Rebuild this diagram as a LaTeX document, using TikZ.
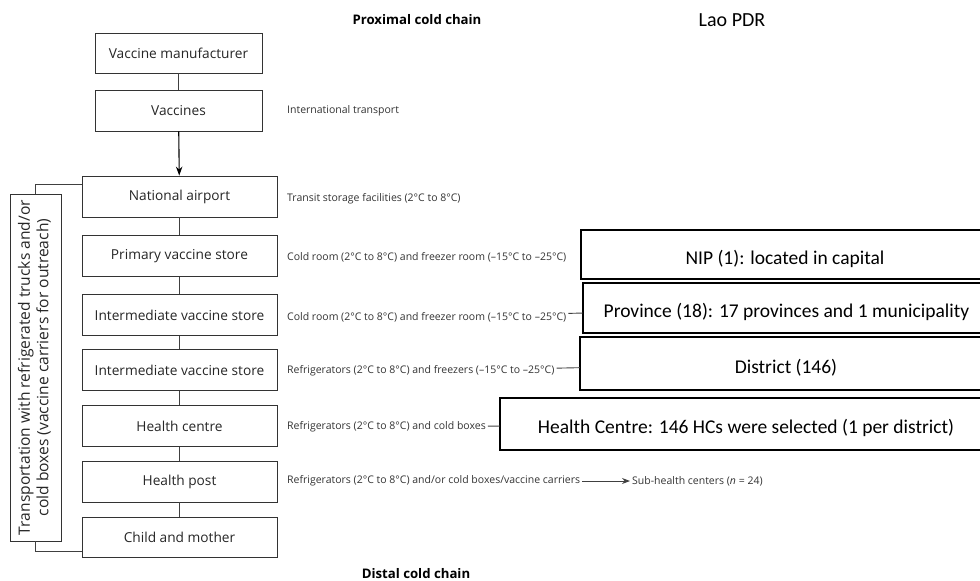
\documentclass[tikz,border=0pt]{standalone}
\usepackage{fontspec}
\setmainfont{Open Sans}
\newfontfamily\calib{Carlito}
\usetikzlibrary{arrows.meta}
\newcommand{\rtext}[2]{\hspace*{#1}\raisebox{-4pt}[\height][\depth]{#2}}
\begin{document}
\begin{tikzpicture}[x=1pt,y=-1pt,
  mbox/.style={draw=black!80, line width=0.9pt, minimum width=195pt, minimum height=41pt, inner sep=0pt, font=\fontsize{13.7}{16}\selectfont, text=black!85},
  note/.style={anchor=west, inner sep=2pt, font=\fontsize{10.5}{12}\selectfont, text=black!80},
  rbox/.style={inner sep=0pt, font=\calib\fontsize{19.5}{24}\selectfont, text=black},
  border/.style={line width=2.2pt, black},
  link/.style={draw=black!75, line width=0.9pt},
  title/.style={font=\bfseries\fontsize{13.2}{15}\selectfont, text=black}]
\useasboundingbox (0,0) rectangle (980,581);

% titles
\node[title] (prox) at (417,20) {Proximal cold chain};
\node[title] (dist) at (416,574) {Distal cold chain};
\node[font=\calib\fontsize{20}{24}\selectfont] (lao) at (732,20) {Lao PDR};

% main chain
\node[mbox, minimum width=167pt, minimum height=40pt] (man) at (178.5,53) {Vaccine manufacturer};
\node[mbox, minimum width=167pt] (vac) at (178.5,110.5) {Vaccines};
\node[mbox] (air) at (179.5,196.5) {National airport};
\node[mbox] (pvs) at (179.5,256) {Primary vaccine store};
\node[mbox] (ivs1) at (179.5,315) {Intermediate vaccine store};
\node[mbox] (ivs2) at (179.5,370) {Intermediate vaccine store};
\node[mbox] (hc) at (179.5,426) {Health centre};
\node[mbox] (hp) at (179.5,481.5) {Health post};
\node[mbox, minimum height=40pt] (cm) at (179.5,537) {Child and mother};

\draw[link] (man) -- (vac);
\draw[line width=1.1pt, black, -{Stealth[length=9pt,width=6.5pt]}] (vac) -- (air);
\draw[link] (air) -- (pvs);
\draw[link] (pvs) -- (ivs1);
\draw[link] (ivs1) -- (ivs2);
\draw[link] (ivs2) -- (hc);
\draw[link] (hc) -- (hp);
\draw[link] (hp) -- (cm);

% transport box
\node[draw=black!80, line width=0.9pt, minimum width=51pt, minimum height=347pt, inner sep=0pt, font=\fontsize{15.6}{18.5}\selectfont, text=black!85] (trans) at (35.5,367.5)
  {\rotatebox{90}{\begin{tabular}{@{}c@{}}Transportation with refrigerated trucks and/or\\ cold boxes (vaccine carriers for outreach)\end{tabular}}};
\draw[link] (trans.north) |- ([yshift=12.5pt]air.west);
\draw[link] (trans.south) |- ([yshift=-14pt]cm.west);

% notes
\node[note] (n1) at (285,111) {International transport};
\node[note] (n2) at (285,199) {Transit storage facilities (2°C to 8°C)};
\node[note] (n3) at (285,257) {Cold room (2°C to 8°C) and freezer room (–15°C to –25°C)};
\node[note] (n4) at (285,317) {Cold room (2°C to 8°C) and freezer room (–15°C to –25°C)};
\node[note] (n5) at (285,371) {Refrigerators (2°C to 8°C) and freezers (–15°C to –25°C)};
\node[note] (n6) at (285,427) {Refrigerators (2°C to 8°C) and cold boxes};
\node[note] (n7) at (285,481) {Refrigerators (2°C to 8°C) and/or cold boxes/vaccine carriers};
\node[note] (sub) at (630,481) {Sub-health centers (\textit{n} = 24)};

% right boxes
\node[rbox, minimum width=399pt, minimum height=49pt] (nip) at (780.5,254.5) {\rtext{9pt}{NIP (1): located in capital}};
\node[rbox, minimum width=397pt, minimum height=50pt] (prov) at (781.5,308) {\rtext{10pt}{Province (18): 17 provinces and 1 municipality}};
\node[rbox, minimum width=400pt, minimum height=53pt] (distr) at (780,363.5) {\rtext{12pt}{District (146)}};
\node[rbox, minimum width=480pt, minimum height=52pt] (hcb) at (740,424) {\rtext{12pt}{Health Centre: 146 HCs were selected (1 per district)}};

\foreach \b in {nip,prov,distr,hcb}
  \draw[border] (\b.north east) -- (\b.north west) -- (\b.south west) -- (\b.south east);

\draw[link] (n4) -- (prov);
\draw[link] (n5) -- (distr);
\draw[link] (n6) -- (hcb);
\draw[link, -{Stealth[length=8pt,width=6pt]}] (n7) -- (sub);
\end{tikzpicture}
\end{document}
